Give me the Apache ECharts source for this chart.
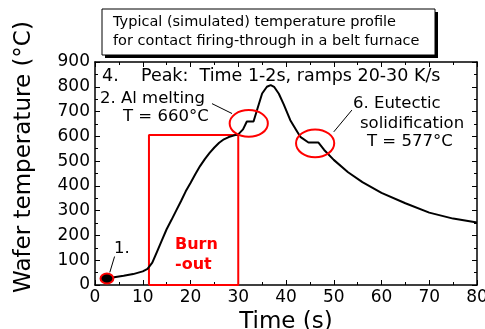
<!DOCTYPE html>
<html><head><meta charset="utf-8">
<script src="https://cdn.jsdelivr.net/npm/echarts@6/dist/echarts.min.js"></script>
<style>html,body{margin:0;padding:0;background:#fff}#c{width:485px;height:329px}</style>
</head><body><div id="c"></div>
<script>
// time (s) and wafer temperature (°C)
const timeS = [2, 4, 6, 8, 10, 11, 12, 13, 14, 15, 16, 17, 18, 19, 20, 21, 22, 23, 24, 25, 26, 27, 28, 29, 30, 31, 31.8, 33.2, 34, 35, 36, 36.8, 37.5, 38.5, 39.5, 40.9, 42, 43, 44.7, 46.8, 48, 50, 53, 56, 60, 65, 70, 75, 80];
const tempC = [25, 31, 37, 44, 55, 65, 90, 135, 180, 225, 262, 300, 338, 378, 412, 447, 480, 508, 533, 555, 574, 588, 597, 603, 608, 628, 660, 660, 710, 773, 800, 807, 800, 772, 730, 665, 630, 598, 575, 575, 545, 505, 455, 415, 372, 330, 292, 268, 252];
const xTicks = [0, 10, 20, 30, 40, 50, 60, 70, 80];
const yTicks = [0, 100, 200, 300, 400, 500, 600, 700, 800, 900];
// burn-out box outline
const burnBox = [[11.3, 0], [11.3, 605], [30, 605], [30, 0], [11.3, 0]];
// highlight ellipses: [t, T, widthSeconds, heightDegrees]
const ellipses = [[32.2, 652, 8, 108], [46.1, 572, 8, 112]];
const startPoint = [[2.5, 26, 2.7, 40]];
// leader lines
const leaderAl = [[24.5, 732], [28.7, 692]];
const leaderEu = [[53.8, 706], [50, 618]];
const leader1 = [[4.1, 115], [3.1, 51]];

const FONT = '"DejaVu Sans", Verdana, sans-serif';
const chart = echarts.init(document.getElementById('c'));

function ellipseSeries(data, fill, z) {
  return {
    type: 'custom', data: data, z: z, silent: true,
    renderItem: function (params, api) {
      const c = api.coord([api.value(0), api.value(1)]);
      const s = api.size([api.value(2), api.value(3)]);
      return {
        type: 'ellipse',
        shape: { cx: c[0], cy: c[1], rx: s[0] / 2, ry: s[1] / 2 },
        style: { fill: fill, stroke: '#ff0000', lineWidth: 2 }
      };
    }
  };
}
function lineSeries(data, color, width, z) {
  return { type: 'line', data: data, symbol: 'none', silent: true, z: z,
    lineStyle: { color: color, width: width }, animation: false };
}

const axisCommon = {
  axisLine: { show: true, onZero: false, lineStyle: { color: '#000', width: 1.5 } },
  axisTick: { show: true, inside: true, length: 5, lineStyle: { color: '#000' } },
  minorTick: { show: true, splitNumber: 2, length: 3, lineStyle: { color: '#000' } },
  splitLine: { show: false }
};

chart.setOption({
  animation: false,
  grid: { left: 95, right: 8, top: 62, bottom: 44, outerBoundsMode: 'none', containLabel: false },
  xAxis: [
    Object.assign({}, axisCommon, {
      type: 'value', min: 0, max: 80, interval: 10, position: 'bottom',
      name: 'Time (s)', nameLocation: 'middle', nameGap: 20,
      nameTextStyle: { fontFamily: FONT, fontSize: 23, color: '#000' },
      axisLabel: { fontFamily: FONT, fontSize: 17, color: '#000', margin: 4,
        formatter: v => xTicks.includes(v) ? String(v) : '' }
    }),
    Object.assign({}, axisCommon, {
      type: 'value', min: 0, max: 80, interval: 10, position: 'top',
      axisLabel: { show: false }
    })
  ],
  yAxis: [
    Object.assign({}, axisCommon, {
      type: 'value', min: 0, max: 900, interval: 100, position: 'left',
      axisLabel: { fontFamily: FONT, fontSize: 17, color: '#000', margin: 5,
        formatter: v => yTicks.includes(v) ? String(v) : '' }
    }),
    Object.assign({}, axisCommon, {
      type: 'value', min: 0, max: 900, interval: 100, position: 'right',
      axisLabel: { show: false }
    })
  ],
  series: [
    lineSeries(burnBox, '#ff0000', 2, 2),
    lineSeries(timeS.map((t, i) => [t, tempC[i]]), '#000', 2, 3),
    lineSeries(leaderAl, '#000', 1, 3),
    lineSeries(leaderEu, '#000', 1, 3),
    lineSeries(leader1, '#000', 1, 3),
    ellipseSeries(ellipses, 'none', 4),
    ellipseSeries(startPoint, '#000', 4)
  ],
  graphic: [
    { type: 'text', x: 24, y: 157, rotation: Math.PI / 2, z: 12,
      style: { text: 'Wafer temperature (°C)', font: '23px ' + FONT, fill: '#000', align: 'center', verticalAlign: 'middle' } },
    { type: 'rect', shape: { x: 105, y: 12, width: 333, height: 46 }, style: { fill: '#000' }, z: 10 },
    { type: 'rect', shape: { x: 102, y: 9, width: 333, height: 46 }, style: { fill: '#fff', stroke: '#000', lineWidth: 1 }, z: 11 },
    { type: 'text', left: 113, top: 15, z: 12, style: { text: 'Typical (simulated) temperature profile', font: '14.5px ' + FONT, fill: '#000' } },
    { type: 'text', left: 113, top: 34, z: 12, style: { text: 'for contact firing-through in a belt furnace', font: '14.5px ' + FONT, fill: '#000' } },
    { type: 'text', left: 102, top: 67, z: 12, style: { text: '4.    Peak:  Time 1-2s, ramps 20-30 K/s', font: '17.5px ' + FONT, fill: '#000' } },
    { type: 'text', left: 100, top: 90, z: 12, style: { text: '2. Al melting', font: '16.5px ' + FONT, fill: '#000' } },
    { type: 'text', left: 123, top: 108, z: 12, style: { text: 'T = 660°C', font: '16.5px ' + FONT, fill: '#000' } },
    { type: 'text', left: 353, top: 95, z: 12, style: { text: '6. Eutectic', font: '16.5px ' + FONT, fill: '#000' } },
    { type: 'text', left: 360, top: 115, z: 12, style: { text: 'solidification', font: '16.5px ' + FONT, fill: '#000' } },
    { type: 'text', left: 367, top: 133, z: 12, style: { text: 'T = 577°C', font: '16.5px ' + FONT, fill: '#000' } },
    { type: 'text', left: 175, top: 237, z: 12, style: { text: 'Burn', font: 'bold 16px ' + FONT, fill: '#ff0000' } },
    { type: 'text', left: 175, top: 257, z: 12, style: { text: '-out', font: 'bold 16px ' + FONT, fill: '#ff0000' } },
    { type: 'text', left: 114, top: 240, z: 12, style: { text: '1.', font: '16.5px ' + FONT, fill: '#000' } }
  ]
});
</script></body></html>
